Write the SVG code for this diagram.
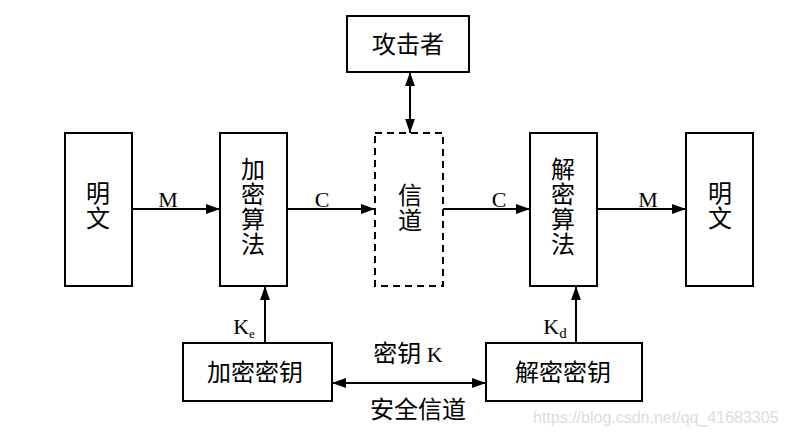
<svg xmlns="http://www.w3.org/2000/svg" width="785" height="435" viewBox="0 0 785 435">
<style>
.box{fill:#fff;stroke:#000;stroke-width:2}
.dash{fill:#fff;stroke:#000;stroke-width:2;stroke-dasharray:7,5}
.zh{font-family:"Noto Sans CJK SC","Noto Sans",sans-serif;font-size:24px;fill:#000;text-anchor:middle}
.vt{font-family:"Noto Sans CJK SC","Noto Sans",sans-serif;font-size:24px;fill:#000;text-anchor:middle;writing-mode:vertical-rl;letter-spacing:1px}
.lat{font-family:"Liberation Serif",serif;font-size:22px;fill:#000;text-anchor:middle}
.ln{stroke:#000;stroke-width:2;fill:none}
</style>
<defs>
<marker id="ahs" viewBox="0 0 10 10" refX="10" refY="5" markerWidth="14" markerHeight="14" orient="auto-start-reverse" markerUnits="userSpaceOnUse">
<path d="M0,1.5 L10,5 L0,8.5 Z" fill="#000"/>
</marker>
</defs>
<rect width="785" height="435" fill="#fff"/>
<g id="connectors">
<line class="ln" x1="132" y1="209" x2="220" y2="209" marker-end="url(#ahs)"/>
<line class="ln" x1="287" y1="209" x2="375" y2="209" marker-end="url(#ahs)"/>
<line class="ln" x1="443" y1="209" x2="530" y2="209" marker-end="url(#ahs)"/>
<line class="ln" x1="597" y1="209" x2="686" y2="209" marker-end="url(#ahs)"/>
<line class="ln" x1="410" y1="72" x2="410" y2="133" marker-start="url(#ahs)" marker-end="url(#ahs)"/>
<line class="ln" x1="265" y1="343" x2="265" y2="286" marker-end="url(#ahs)"/>
<line class="ln" x1="576" y1="343" x2="576" y2="286" marker-end="url(#ahs)"/>
<line class="ln" x1="332" y1="383" x2="486" y2="383" marker-start="url(#ahs)" marker-end="url(#ahs)"/>
<text class="lat" x="168" y="207">M</text>
<text class="lat" x="322" y="207">C</text>
<text class="lat" x="499" y="207">C</text>
<text class="lat" x="648" y="207">M</text>
<text class="lat" x="244" y="334">K<tspan font-size="13" dy="4">e</tspan></text>
<text class="lat" x="555" y="334">K<tspan font-size="15" dy="4">d</tspan></text>
<text class="zh" x="408" y="362">密钥 <tspan font-family="Liberation Serif" font-size="22">K</tspan></text>
<text class="zh" x="418" y="418">安全信道</text>
</g>
<g id="plain1">
<rect class="box" x="65" y="133" width="67" height="153"/>
<text class="vt" x="98" y="206">明文</text>
</g>
<g id="encrypt">
<rect class="box" x="220" y="133" width="67" height="153"/>
<text class="vt" x="253" y="207">加密算法</text>
</g>
<g id="channel">
<rect class="dash" x="375" y="133" width="68" height="153"/>
<text class="vt" x="410" y="208">信道</text>
</g>
<g id="decrypt">
<rect class="box" x="530" y="133" width="67" height="153"/>
<text class="vt" x="563" y="207">解密算法</text>
</g>
<g id="plain2">
<rect class="box" x="686" y="133" width="67" height="153"/>
<text class="vt" x="720" y="206">明文</text>
</g>
<g id="attacker">
<rect class="box" x="347" y="16" width="122" height="56"/>
<text class="zh" x="408" y="53">攻击者</text>
</g>
<g id="enckey">
<rect class="box" x="183" y="343" width="149" height="58"/>
<text class="zh" x="255" y="381">加密密钥</text>
</g>
<g id="deckey">
<rect class="box" x="486" y="343" width="156" height="58"/>
<text class="zh" x="563" y="381">解密密钥</text>
</g>
<text x="533" y="423" font-family="Liberation Sans,sans-serif" font-size="16" fill="#dddddd">https://blog.csdn.net/qq_41683305</text>
</svg>
